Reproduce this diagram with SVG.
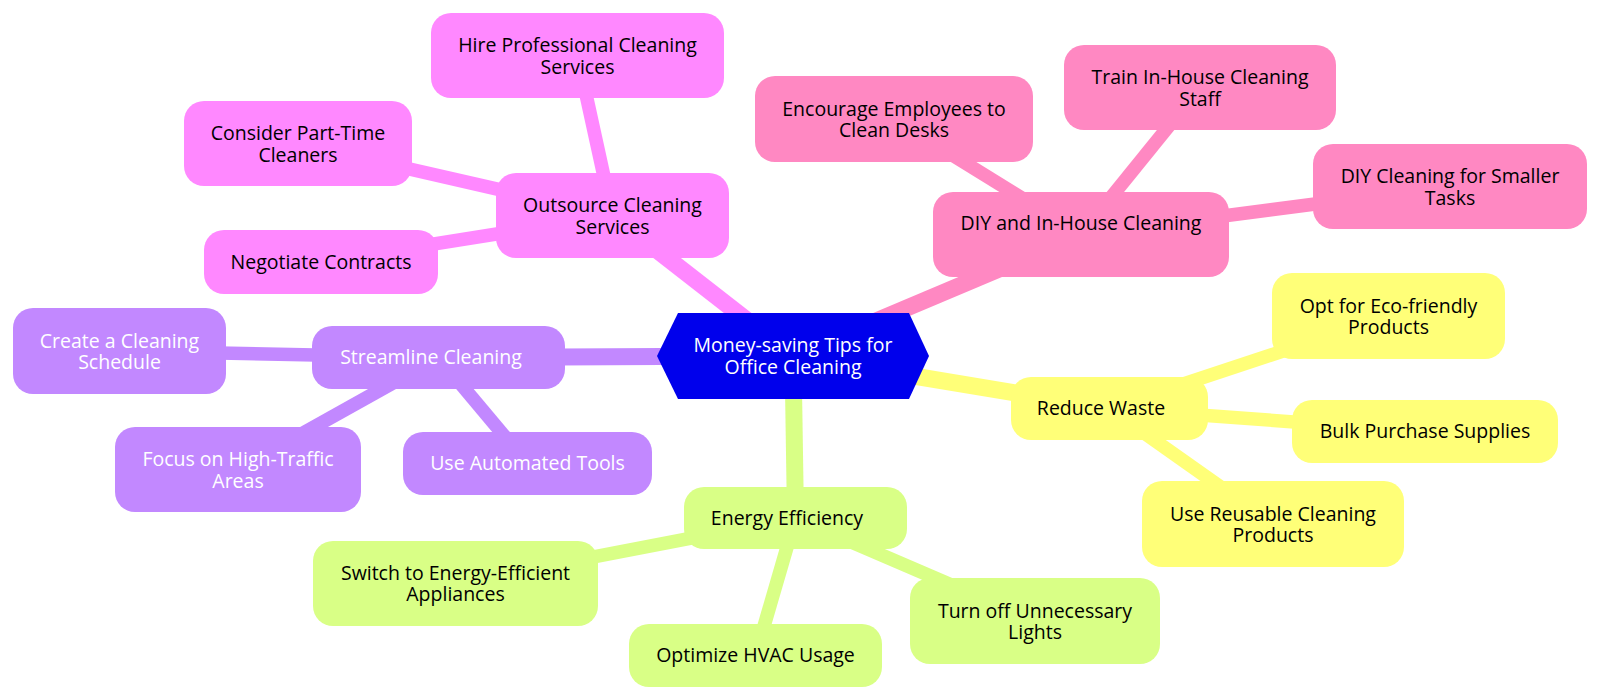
<svg xmlns="http://www.w3.org/2000/svg" width="1600" height="700" viewBox="0 0 1600 700">
<style>
text{font-family:"Open Sans","Liberation Sans",sans-serif;font-size:19.5px;text-anchor:middle;fill:#000}
.e0{stroke-width:17;stroke-linecap:butt;fill:none}
.e1{stroke-width:13.5;stroke-linecap:butt;fill:none}
.sp{stroke:#FF88FF}.fp{fill:#FF88FF}
.sk{stroke:#FF88C2}.fk{fill:#FF88C2}
.sy{stroke:#FFFF78}.fy{fill:#FFFF78}
.sg{stroke:#D9FF86}.fg{fill:#D9FF86}
.sv{stroke:#C288FF}.fv{fill:#C288FF}
.w{fill:#fff}
</style>
<g id="connectors">
<line class="e0 sp" x1="793" y1="356" x2="612.5" y2="215.5"/>
<line class="e0 sk" x1="793" y1="356" x2="1081" y2="234.5"/>
<line class="e0 sy" x1="793" y1="356" x2="1109.5" y2="408.5"/>
<line class="e0 sg" x1="793" y1="356" x2="795.5" y2="518"/>
<line class="e0 sv" x1="793" y1="356" x2="438.5" y2="357.5"/>
<line class="e1 sp" x1="612.5" y1="215.5" x2="577.5" y2="55.5"/>
<line class="e1 sp" x1="612.5" y1="215.5" x2="298" y2="143.5"/>
<line class="e1 sp" x1="612.5" y1="215.5" x2="321" y2="262"/>
<line class="e1 sk" x1="1081" y1="234.5" x2="894" y2="119"/>
<line class="e1 sk" x1="1081" y1="234.5" x2="1200" y2="87.5"/>
<line class="e1 sk" x1="1081" y1="234.5" x2="1450" y2="186.5"/>
<line class="e1 sy" x1="1109.5" y1="408.5" x2="1388.5" y2="316"/>
<line class="e1 sy" x1="1109.5" y1="408.5" x2="1425" y2="431.5"/>
<line class="e1 sy" x1="1109.5" y1="408.5" x2="1273" y2="524"/>
<line class="e1 sg" x1="795.5" y1="518" x2="455.5" y2="583.5"/>
<line class="e1 sg" x1="795.5" y1="518" x2="755.5" y2="655.5"/>
<line class="e1 sg" x1="795.5" y1="518" x2="1035" y2="621"/>
<line class="e1 sv" x1="438.5" y1="357.5" x2="119.5" y2="351"/>
<line class="e1 sv" x1="438.5" y1="357.5" x2="238" y2="469.5"/>
<line class="e1 sv" x1="438.5" y1="357.5" x2="527.5" y2="463.5"/>
</g>
<g id="root">
<polygon points="657,356 678,313 909,313 929,356 909,399 678,399" fill="#0000EC"/>
<text class="w" x="793" y="352">Money-saving Tips for</text>
<text class="w" x="793" y="373.5">Office Cleaning</text>
</g>
<g id="outsource">
<rect class="fp" x="496" y="173" width="233" height="85" rx="20"/>
<text x="612.5" y="212">Outsource Cleaning</text>
<text x="612.5" y="233.5">Services</text>
</g>
<g id="hire">
<rect class="fp" x="431" y="13" width="293" height="85" rx="20"/>
<text x="577.5" y="52">Hire Professional Cleaning</text>
<text x="577.5" y="73.5">Services</text>
</g>
<g id="parttime">
<rect class="fp" x="184" y="101" width="228" height="85" rx="20"/>
<text x="298" y="140">Consider Part-Time</text>
<text x="298" y="161.5">Cleaners</text>
</g>
<g id="negotiate">
<rect class="fp" x="204" y="230" width="234" height="64" rx="20"/>
<text x="321" y="268.5">Negotiate Contracts</text>
</g>
<g id="diy">
<rect class="fk" x="933" y="192" width="296" height="85" rx="20"/>
<text x="1081" y="230">DIY and In-House Cleaning</text>
</g>
<g id="encourage">
<rect class="fk" x="755" y="76" width="278" height="86" rx="20"/>
<text x="894" y="115.5">Encourage Employees to</text>
<text x="894" y="137">Clean Desks</text>
</g>
<g id="train">
<rect class="fk" x="1064" y="45" width="272" height="85" rx="20"/>
<text x="1200" y="84">Train In-House Cleaning</text>
<text x="1200" y="105.5">Staff</text>
</g>
<g id="diysmall">
<rect class="fk" x="1313" y="144" width="274" height="85" rx="20"/>
<text x="1450" y="183">DIY Cleaning for Smaller</text>
<text x="1450" y="204.5">Tasks</text>
</g>
<g id="reduce">
<rect class="fy" x="1011" y="377" width="197" height="63" rx="20"/>
<text x="1101" y="415">Reduce Waste</text>
</g>
<g id="eco">
<rect class="fy" x="1272" y="273" width="233" height="86" rx="20"/>
<text x="1388.5" y="312.5">Opt for Eco-friendly</text>
<text x="1388.5" y="334">Products</text>
</g>
<g id="bulk">
<rect class="fy" x="1292" y="400" width="266" height="63" rx="20"/>
<text x="1425" y="438">Bulk Purchase Supplies</text>
</g>
<g id="reusable">
<rect class="fy" x="1142" y="481" width="262" height="86" rx="20"/>
<text x="1273" y="520.5">Use Reusable Cleaning</text>
<text x="1273" y="542">Products</text>
</g>
<g id="energy">
<rect class="fg" x="684" y="487" width="223" height="62" rx="20"/>
<text x="787" y="524.5">Energy Efficiency</text>
</g>
<g id="switch">
<rect class="fg" x="313" y="541" width="285" height="85" rx="20"/>
<text x="455.5" y="579.5">Switch to Energy-Efficient</text>
<text x="455.5" y="601">Appliances</text>
</g>
<g id="hvac">
<rect class="fg" x="629" y="624" width="253" height="63" rx="20"/>
<text x="755.5" y="662">Optimize HVAC Usage</text>
</g>
<g id="lights">
<rect class="fg" x="910" y="578" width="250" height="86" rx="20"/>
<text x="1035" y="617.5">Turn off Unnecessary</text>
<text x="1035" y="639">Lights</text>
</g>
<g id="streamline">
<rect class="fv" x="312" y="326" width="253" height="63" rx="20"/>
<text class="w" x="431" y="364">Streamline Cleaning</text>
</g>
<g id="schedule">
<rect class="fv" x="13" y="308" width="213" height="86" rx="20"/>
<text class="w" x="119.5" y="347.5">Create a Cleaning</text>
<text class="w" x="119.5" y="369">Schedule</text>
</g>
<g id="focus">
<rect class="fv" x="115" y="427" width="246" height="85" rx="20"/>
<text class="w" x="238" y="466">Focus on High-Traffic</text>
<text class="w" x="238" y="487.5">Areas</text>
</g>
<g id="automated">
<rect class="fv" x="403" y="432" width="249" height="63" rx="20"/>
<text class="w" x="527.5" y="470">Use Automated Tools</text>
</g>
</svg>
